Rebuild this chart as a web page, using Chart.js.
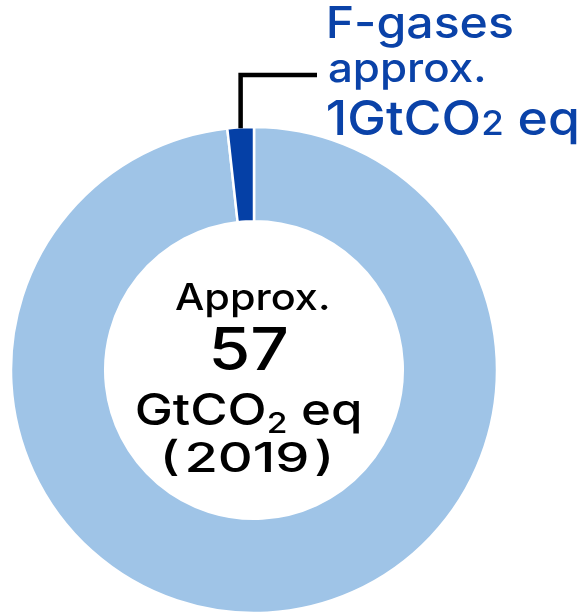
<!DOCTYPE html>
<html>
<head>
<meta charset="utf-8">
<script src="https://cdn.jsdelivr.net/npm/chart.js@4.4.1/dist/chart.umd.min.js"></script>
<style>
  html, body { margin: 0; padding: 0; background: #ffffff; }
  #wrap { position: relative; width: 583px; height: 613px; }
</style>
</head>
<body>
<div id="wrap"><canvas id="ghg" width="583" height="613"></canvas></div>
<script>
// Global greenhouse gas emissions, 2019 (GtCO2 eq)
const categories = ['Other greenhouse gases', 'F-gases'];
const emissions = [56, 1];
const totalLabel = '57';
const yearLabel = '(\u200A2019\u200A)';
const sliceColors = ['#9fc4e7', '#0540a6'];

const FONT = 'Inter, "Noto Sans", sans-serif';
const BLUE = '#0a42a8';

// Draws a line made of parts ({t, size, dy}) so that its ink starts at inkLeft
// and spans `span` pixels, widening the glyphs horizontally to fit.
function drawWide(ctx, parts, inkLeft, baseline, span, weight) {
  let natural = 0, leftBearing = 0, lastRight = 0;
  const widths = parts.map((p, i) => {
    ctx.font = weight + ' ' + p.size + 'px ' + FONT;
    const m = ctx.measureText(p.t);
    if (i === 0) leftBearing = m.actualBoundingBoxLeft;
    if (i === parts.length - 1) lastRight = m.actualBoundingBoxRight - m.width;
    natural += m.width;
    return m.width;
  });
  const ink = natural + leftBearing + lastRight;
  const sx = span / ink;
  ctx.save();
  ctx.translate(inkLeft, baseline);
  ctx.scale(sx, 1);
  ctx.textAlign = 'left';
  let x = leftBearing;
  parts.forEach((p, i) => {
    ctx.font = weight + ' ' + p.size + 'px ' + FONT;
    ctx.fillText(p.t, x, p.dy || 0);
    x += widths[i];
  });
  ctx.restore();
}

const annotations = {
  id: 'annotations',
  afterDatasetsDraw(chart) {
    const ctx = chart.ctx;
    const arc = chart.getDatasetMeta(0).data[1];
    const mid = (arc.startAngle + arc.endAngle) / 2;
    const px = arc.x + Math.cos(mid) * arc.outerRadius;
    const py = arc.y + Math.sin(mid) * arc.outerRadius;

    ctx.save();
    // leader line from the F-gases slice to its label
    ctx.strokeStyle = '#000000';
    ctx.lineWidth = 4.5;
    ctx.lineCap = 'butt';
    ctx.lineJoin = 'miter';
    ctx.beginPath();
    ctx.moveTo(px, py + 1);
    ctx.lineTo(px, 75);
    ctx.lineTo(317, 75);
    ctx.stroke();

    // F-gases label
    ctx.fillStyle = BLUE;
    ctx.textBaseline = 'alphabetic';
    drawWide(ctx, [{ t: categories[1], size: 44 }], 329, 38, 183, 500);
    drawWide(ctx, [{ t: 'approx.', size: 40 }], 329, 82, 154, 500);
    drawWide(ctx, [
      { t: emissions[1] + 'GtCO', size: 48 },
      { t: '2', size: 34 },
      { t: ' eq', size: 48 }
    ], 328, 135, 249, 500);

    // total in the centre of the ring
    ctx.fillStyle = '#000000';
    drawWide(ctx, [{ t: 'Approx.', size: 37 }], 175, 310, 153, 500);
    drawWide(ctx, [{ t: totalLabel, size: 59 }], 213, 370, 74, 500);
    drawWide(ctx, [
      { t: 'GtCO', size: 44 },
      { t: '2', size: 29, dy: 8 },
      { t: ' eq', size: 44 }
    ], 137, 425, 223, 500);
    drawWide(ctx, [{ t: yearLabel, size: 41 }], 165, 472, 165, 500);
    ctx.restore();
  }
};

new Chart(document.getElementById('ghg'), {
  type: 'doughnut',
  data: {
    labels: categories,
    datasets: [{
      data: emissions,
      backgroundColor: sliceColors,
      borderColor: '#ffffff',
      borderWidth: 2.5,
      hoverOffset: 0
    }]
  },
  options: {
    responsive: false,
    animation: false,
    events: [],
    rotation: 0,
    radius: 243,
    cutout: 148,
    layout: { padding: { left: 0, right: 75, top: 127, bottom: 0 } },
    plugins: {
      legend: { display: false },
      tooltip: { enabled: false }
    }
  },
  plugins: [annotations]
});
</script>
</body>
</html>
